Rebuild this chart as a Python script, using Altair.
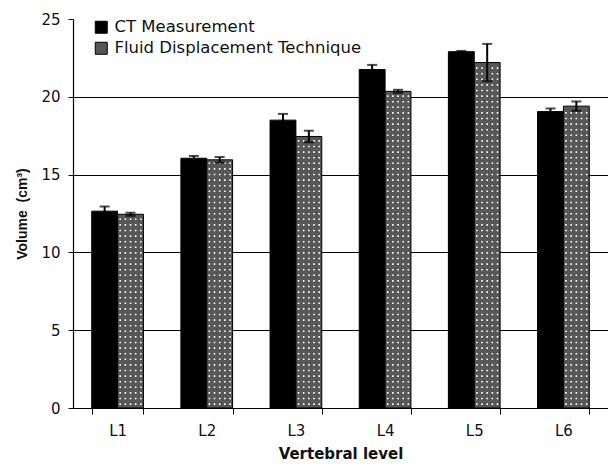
import altair as alt
import pandas as pd

categories = ["L1", "L2", "L3", "L4", "L5", "L6"]
series_names = ["CT Measurement", "Fluid Displacement Technique"]
ct_values = [12.65, 16.05, 18.5, 21.75, 22.9, 19.05]
ct_errors = [0.3, 0.15, 0.4, 0.3, 0.05, 0.2]
fdt_values = [12.45, 15.95, 17.45, 20.35, 22.2, 19.4]
fdt_errors = [0.1, 0.18, 0.37, 0.1, 1.2, 0.3]
y_ticks = [0, 5, 10, 15, 20, 25]

rows = []
for c, v, e in zip(categories, ct_values, ct_errors):
    rows.append({"level": c, "series": series_names[0], "value": v, "lo": v - e, "hi": v + e})
for c, v, e in zip(categories, fdt_values, fdt_errors):
    rows.append({"level": c, "series": series_names[1], "value": v, "lo": v - e, "hi": v + e})
df = pd.DataFrame(rows)

# texture columns for the dotted fill of the second series
tex_cols = [f"t{i}" for i in range(10)]
dots = pd.DataFrame(
    [{"level": c, "col": tex_cols[5 + i], "top": v - 0.15}
     for c, v in zip(categories, fdt_values) for i in range(5)]
)

FONT = "DejaVu Sans"

x_enc = alt.X(
    "level:N",
    sort=categories,
    scale=alt.Scale(paddingInner=0.42, paddingOuter=0.21),
    axis=alt.Axis(
        title="Vertebral level",
        labelAngle=0,
        tickBand="extent",
        tickSize=6,
        labelPadding=9,
        labelFontSize=15,
        titleFontSize=15,
        titleFontWeight="bold",
        titlePadding=8,
        grid=False,
    ),
)
y_scale = alt.Scale(domain=[0, 25], nice=False)
y_enc = alt.Y(
    "value:Q",
    scale=y_scale,
    axis=alt.Axis(
        title="Volume\u00a0\u00a0(cm³)",
        titleFont="Liberation Sans",
        values=y_ticks,
        tickSize=5,
        labelPadding=8,
        labelFontSize=15,
        titleFontSize=14,
        titleFontWeight="bold",
        titlePadding=11,
        grid=True,
        gridColor="black",
        gridWidth=1,
        gridOpacity={"condition": {"test": "datum.value == 25 || datum.value == 0", "value": 0}, "value": 1},
    ),
)
xoff = alt.XOffset("series:N", sort=series_names, scale=alt.Scale(domain=series_names, paddingInner=0, paddingOuter=0))

base = alt.Chart(df)

bars = base.mark_bar(stroke="black", strokeWidth=1).encode(
    x=x_enc,
    xOffset=xoff,
    y=y_enc,
    color=alt.Color(
        "series:N",
        sort=series_names,
        scale=alt.Scale(domain=series_names, range=["#000000", "#575757"]),
        legend=alt.Legend(
            title=None,
            orient="none",
            legendX=20,
            legendY=0,
            symbolType="square",
            symbolSize=144,
            symbolStrokeColor="black",
            symbolStrokeWidth=1,
            labelFontSize=16.5,
            labelLimit=0,
            labelColor="#111111",
            rowPadding=4,
            labelOffset=5,
        ),
    ),
)

tex = alt.Chart(dots).mark_rule(color="white", strokeWidth=1.6, strokeDash=[1.6, 4]).encode(
    x=alt.X("level:N", sort=categories),
    xOffset=alt.XOffset("col:N", scale=alt.Scale(domain=tex_cols, paddingInner=0, paddingOuter=0)),
    y=alt.Y("zero:Q", scale=y_scale),
    y2="top:Q",
).transform_calculate(zero="0.2")

err = base.mark_rule(color="black", strokeWidth=2).encode(
    x=alt.X("level:N", sort=categories),
    xOffset=xoff,
    y=alt.Y("lo:Q", scale=y_scale),
    y2="hi:Q",
)
cap_hi = base.mark_tick(color="black", thickness=2, size=10, orient="horizontal").encode(
    x=alt.X("level:N", sort=categories),
    xOffset=xoff,
    y=alt.Y("hi:Q", scale=y_scale),
)
cap_lo = base.mark_tick(color="black", thickness=2, size=10, orient="horizontal").encode(
    x=alt.X("level:N", sort=categories),
    xOffset=xoff,
    y=alt.Y("lo:Q", scale=y_scale),
)

chart = (
    alt.layer(bars, tex, err, cap_hi, cap_lo)
    .resolve_scale(xOffset="independent")
    .properties(
        width=535,
        height=389,
        padding={"left": 65, "top": 11, "right": 0, "bottom": 58},
        autosize=alt.AutoSizeParams(type="none"),
    )
    .configure(font=FONT)
    .configure_view(stroke=None)
    .configure_axis(domainColor="black", tickColor="black", labelColor="#111111", titleColor="#111111", domainWidth=1.2)
)

chart.save("out.html", embed_options={"renderer": "svg", "actions": False})
